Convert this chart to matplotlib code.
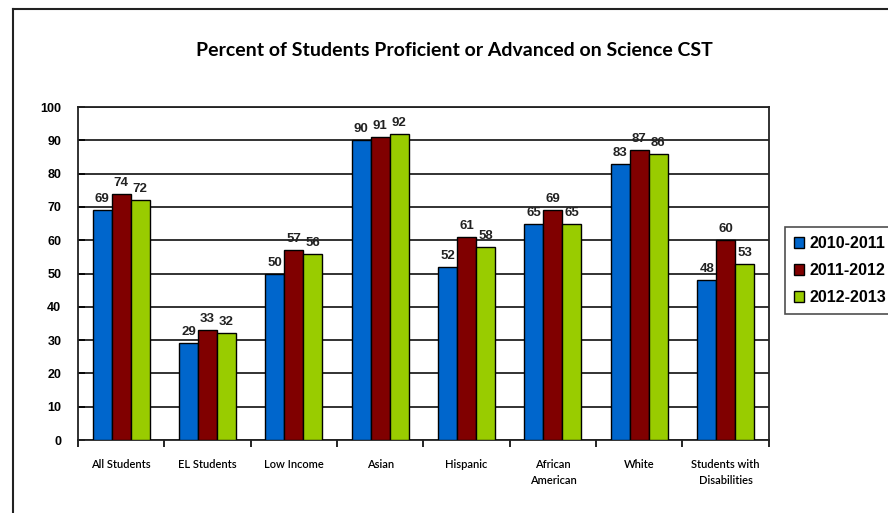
import matplotlib
matplotlib.use("Agg")
import matplotlib.pyplot as plt
import numpy as np
from matplotlib.lines import Line2D

categories = ["All Students", "EL Students", "Low Income", "Asian", "Hispanic",
              "African\nAmerican", "White", "Students with\nDisabilities"]
series_names = ["2010-2011", "2011-2012", "2012-2013"]
v2010 = [69, 29, 50, 90, 52, 65, 83, 48]
v2011 = [74, 33, 57, 91, 61, 69, 87, 60]
v2012 = [72, 32, 56, 92, 58, 65, 86, 53]
colors = ["#0066CC", "#800000", "#99CC00"]
yticks = [0, 10, 20, 30, 40, 50, 60, 70, 80, 90, 100]

fig = plt.figure(figsize=(8.88, 5.13), dpi=100)
ax = fig.add_axes([0.0878, 0.1423, 0.778, 0.6491])

x = np.arange(len(categories))
w = 0.22
for i, (vals, name, c) in enumerate(zip([v2010, v2011, v2012], series_names, colors)):
    pos = x + (i - 1) * w
    ax.bar(pos, vals, width=w, color=c, edgecolor="black", linewidth=1.0,
           label=name, zorder=3)
    for p, v in zip(pos, vals):
        ax.text(p, v + 1.5, str(v), ha="center", va="bottom", fontsize=9.5,
                fontweight="bold", color="#222222", family="Liberation Sans", zorder=4)

ax.set_xlim(-0.5, len(categories) - 0.5)
ax.set_ylim(0, 100)
ax.set_yticks(yticks)
ax.set_yticklabels([str(t) for t in yticks], fontsize=9, fontweight="bold",
                   family="Liberation Sans")
ax.yaxis.grid(True, color="#222222", linewidth=1.3, zorder=0)
ax.set_axisbelow(True)

ax.set_xticks(x)
ax.set_xticklabels(categories, fontsize=8, family="Lato", fontweight="semibold",
                   linespacing=1.55)
ax.set_xticks(np.arange(len(categories) + 1) - 0.5, minor=True)
ax.tick_params(axis="x", which="major", length=0, pad=14)
ax.tick_params(axis="x", which="minor", length=5, width=1.2, direction="out")
ax.tick_params(axis="y", length=5, width=1.2, direction="in", pad=12)
for s in ax.spines.values():
    s.set_color("#222222")
    s.set_linewidth(1.3)

leg = ax.legend(loc="upper left", bbox_to_anchor=(1.012, 0.663), frameon=True,
                fancybox=False, edgecolor="#222222", handlelength=0.65,
                handleheight=0.65, handletextpad=0.3, borderpad=0.55,
                labelspacing=0.75, prop={"family": "Liberation Sans", "weight": "bold", "size": 11.5})
leg.get_frame().set_linewidth(1.2)
for h in leg.legend_handles:
    h.set_edgecolor("black")

fig.text(0.512, 0.902, "Percent of Students Proficient or Advanced on Science CST",
         ha="center", va="center", fontsize=14, fontweight="bold", family="Lato")

# outer frame
fig.add_artist(Line2D([0.0146, 0.0146], [0.0, 0.982], color="#222222", linewidth=1.5,
                      transform=fig.transFigure))
fig.add_artist(Line2D([0.0146, 1.0], [0.982, 0.982], color="#222222", linewidth=1.5,
                      transform=fig.transFigure))

fig.savefig("out.png", dpi=100)
